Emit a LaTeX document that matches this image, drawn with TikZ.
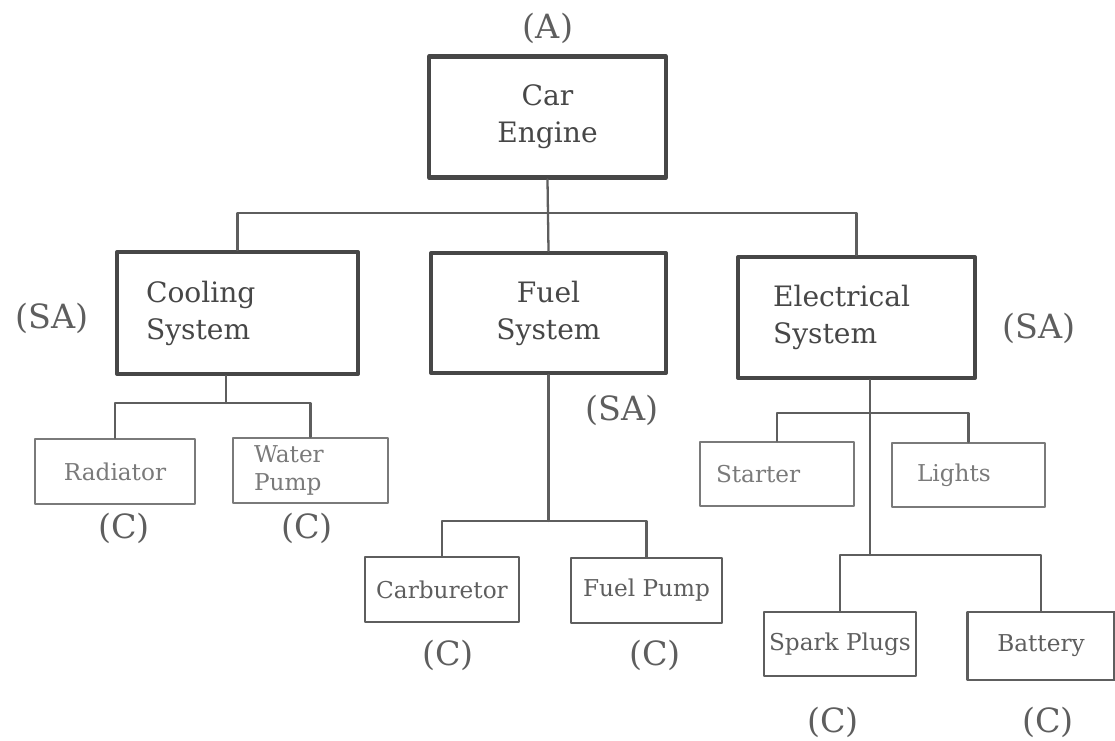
\documentclass[tikz,border=0pt]{standalone}
\usepackage{fontspec}
\setmainfont{DejaVu Serif}
\usepackage{tikz}

\definecolor{inkdark}{HTML}{474747}
\definecolor{inkmid}{HTML}{5E5E5E}
\definecolor{inklight}{HTML}{7A7A7A}

\tikzset{
  assembly/.style={draw=inkdark,line width=2.3pt,text=inkdark,
    font=\fontsize{16}{21}\selectfont,inner sep=0pt},
  part/.style={draw=inkmid,line width=1.4pt,text=inkmid,
    font=\fontsize{13.2}{16}\selectfont,inner sep=0pt,minimum height=1.3cm},
  lightpart/.style={part,draw=inklight,text=inklight,line width=1.2pt},
  wire/.style={draw=inkmid,line width=1.3pt},
  tag/.style={text=inkmid,font=\fontsize{19}{23}\selectfont,inner sep=0pt}
}

\begin{document}
\begin{tikzpicture}[x=0.02cm,y=-0.02cm,line cap=round,line join=round]
  \useasboundingbox (0,0) rectangle (1115,740);

  % Assemblies
  \node[assembly,minimum width=4.74cm,minimum height=2.42cm,align=center]
    (engine) at (547.5,117) {Car\\Engine};
  \node[assembly,minimum width=4.82cm,minimum height=2.44cm,
    text width=3.66cm,inner xsep=0.58cm,align=left]
    (cool) at (237.5,313) {Cooling\\System};
  \node[assembly,minimum width=4.7cm,minimum height=2.4cm,align=center]
    (fuel) at (548.5,313) {Fuel\\System};
  \node[assembly,minimum width=4.74cm,minimum height=2.42cm,
    text width=3.34cm,inner xsep=0.7cm,align=left]
    (elec) at (856.5,317.5) {Electrical\\System};

  % Components
  \node[lightpart,minimum width=3.2cm] (rad) at (115,471.5) {Radiator};
  \node[lightpart,minimum width=3.1cm,text width=2.26cm,inner xsep=0.42cm,
    align=left] (wpump) at (310.5,470.5) {Water\\Pump};
  \node[part,minimum width=3.08cm] (carb) at (442,589.5) {Carburetor};
  \node[part,minimum width=3.02cm] (fpump) at (646.5,590.5) {Fuel Pump};
  \node[lightpart,minimum width=3.08cm,minimum height=1.28cm,
    text width=2.44cm,inner xsep=0.32cm,align=left]
    (start) at (777,474) {Starter};
  \node[lightpart,minimum width=3.06cm,minimum height=1.28cm,
    text width=2.06cm,inner xsep=0.5cm,align=left]
    (lights) at (968.5,475) {Lights};
  \node[part,minimum width=3.04cm,minimum height=1.28cm,inner xsep=0.1cm]
    (spark) at (840,644) {\makebox[2.84cm][l]{Spark Plugs}};
  \node[part,minimum width=2.94cm,minimum height=1.36cm] (batt) at (1041,646) {Battery};

  % Bus points
  \coordinate (topbus) at (547.5,213);
  \coordinate (coolbus) at (226,403);
  \coordinate (fuelbus) at (548.5,521);
  \coordinate (elecbus) at (870,413);
  \coordinate (elecbuslow) at (870,555);

  % Connectors
  \draw[wire] (engine.south) -- (fuel.north);
  \draw[wire] (cool.north) |- (topbus) -| (elec.north);
  \draw[wire] (cool.south -| coolbus) -- (coolbus);
  \draw[wire] (rad.north) |- (coolbus) -| (wpump.north);
  \draw[wire] (fuel.south) -- (fuelbus);
  \draw[wire] (carb.north) |- (fuelbus) -| (fpump.north);
  \draw[wire] (elec.south -| elecbus) -- (elecbuslow);
  \draw[wire] (start.north) |- (elecbus) -| (lights.north);
  \draw[wire] (spark.north) |- (elecbuslow) -| (batt.north);

  % Labels
  \node[tag] (tagA) at (548,28) {(A)};
  \node[tag] (tagSAcool) at (52,318) {(SA)};
  \node[tag] (tagSAfuel) at (622,410) {(SA)};
  \node[tag] (tagSAelec) at (1039,328) {(SA)};
  \node[tag] (tagCrad) at (124,528) {(C)};
  \node[tag] (tagCwpump) at (307,528) {(C)};
  \node[tag] (tagCcarb) at (448,655) {(C)};
  \node[tag] (tagCfpump) at (655,655) {(C)};
  \node[tag] (tagCspark) at (833,722) {(C)};
  \node[tag] (tagCbatt) at (1048,722) {(C)};
\end{tikzpicture}
\end{document}
